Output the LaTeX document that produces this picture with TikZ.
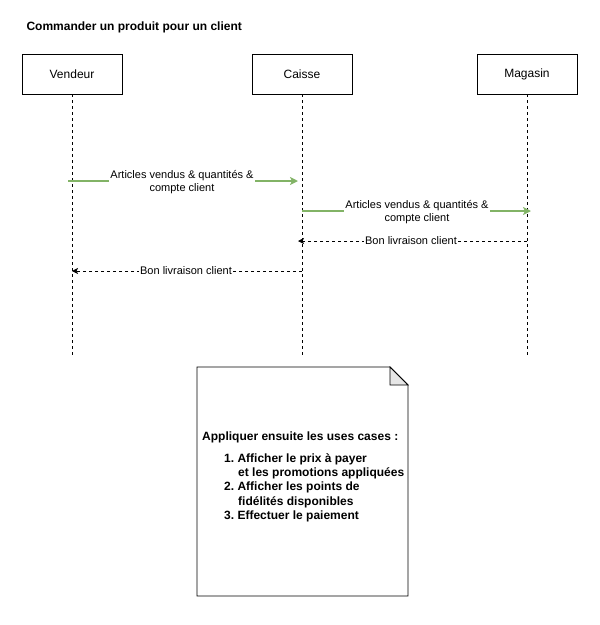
\documentclass[tikz,border=0pt]{standalone}
\usepackage{fontspec}
\setmainfont{Liberation Sans}
\usetikzlibrary{arrows.meta}
\definecolor{msggreen}{HTML}{82B366}
\definecolor{foldgray}{HTML}{E6E6E6}
\begin{document}
\begin{tikzpicture}[x=1pt,y=-1pt,
  actor/.style={draw, line width=0.8pt, minimum width=100pt, minimum height=40pt, inner sep=0pt, font=\fontsize{12}{14}\selectfont},
  lifeline/.style={dash pattern=on 3pt off 3pt, line width=0.8pt},
  callmsg/.style={draw=msggreen, line width=1.6pt, -{Stealth[length=8pt,width=8pt,inset=2pt]}},
  replymsg/.style={dash pattern=on 3pt off 3pt, line width=0.8pt, -{Stealth[length=6pt,width=6pt,inset=1.5pt]}},
  msglabel/.style={fill=white, inner sep=1pt, align=center, font=\fontsize{11}{12.5}\selectfont}]
\useasboundingbox (0,0) rectangle (600,625);

% title
\node[anchor=west, font=\bfseries\fontsize{12}{14}\selectfont] (title) at (23,27) {Commander un produit pour un client};

% participants
\node[actor] (vend) at (72,74) {Vendeur};
\node[actor] (caisse) at (302,74) {Caisse};
\node[actor] (mag) at (527,74) {Magasin};

% lifelines
\coordinate (vendEnd) at (72,355);
\coordinate (caisseEnd) at (302,355);
\coordinate (magEnd) at (527,355);
\draw[lifeline] (vend.south) -- (vendEnd);
\draw[lifeline] (caisse.south) -- (caisseEnd);
\draw[lifeline] (mag.south) -- (magEnd);

% messages
\coordinate (m1s) at (68,181);   \coordinate (m1e) at (298,181);
\coordinate (m2s) at (302,211);  \coordinate (m2e) at (531,211);
\coordinate (m3s) at (527,241);  \coordinate (m3e) at (298,241);
\coordinate (m4s) at (302,271);  \coordinate (m4e) at (72,271);

\draw[callmsg] (m1s) -- (m1e);
\node[msglabel] (l1) at (182,182) {Articles vendus \& quantités \&\\compte client};
\draw[callmsg] (m2s) -- (m2e);
\node[msglabel] (l2) at (417,212) {Articles vendus \& quantités \&\\compte client};
\draw[replymsg] (m3s) -- (m3e);
\node[msglabel] (l3) at (411,241) {Bon livraison client};
\draw[replymsg] (m4s) -- (m4e);
\node[msglabel] (l4) at (186,271) {Bon livraison client};

% note with folded corner
\draw[line width=0.8pt, fill=white] (197,367) -- (390,367) -- (408,385) -- (408,596) -- (197,596) -- cycle;
\draw[line width=0.8pt, fill=foldgray] (390,367) -- (390,385) -- (408,385) -- cycle;
\node[anchor=north west, inner sep=0pt, font=\bfseries\fontsize{12}{14.3}\selectfont, align=left] (note) at (202,432) {%
Appliquer ensuite les uses cases :\\[7pt]
\hspace*{22pt}1.\ Afficher le prix à payer\\
\hspace*{36pt}et les promotions appliquées\\
\hspace*{22pt}2.\ Afficher les points de\\
\hspace*{36pt}fidélités disponibles\\
\hspace*{22pt}3.\ Effectuer le paiement};
\end{tikzpicture}
\end{document}
